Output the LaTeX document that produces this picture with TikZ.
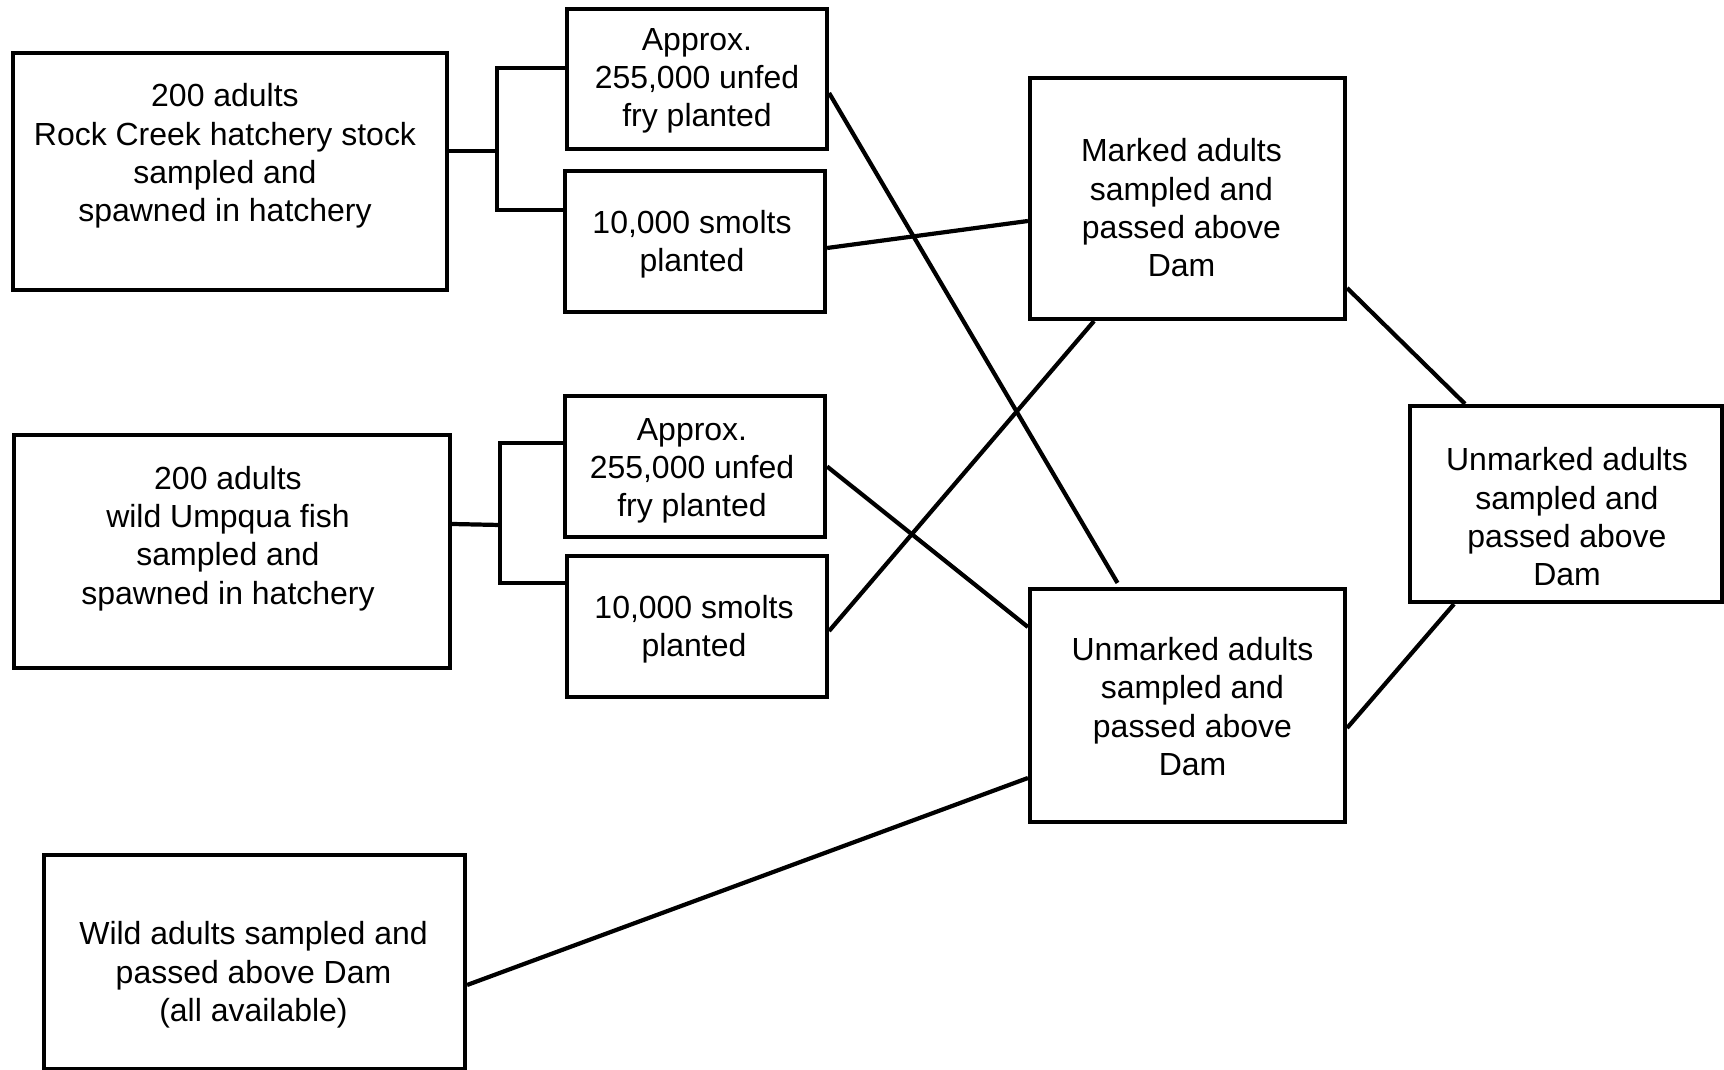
\documentclass[tikz,border=0pt]{standalone}
\usepackage{fontspec}
\setmainfont{Liberation Sans}
\usepackage{tikz}
\usetikzlibrary{calc}

\begin{document}
\begin{tikzpicture}[x=0.02cm,y=-0.02cm,line width=2.4pt]
\tikzstyle{every node}=[font=\fontsize{18.2}{21.8}\selectfont]
\tikzstyle{box}=[draw,rectangle,inner sep=0pt]
\tikzstyle{txt}=[align=center,inner sep=0pt]
\useasboundingbox (0,0) rectangle (1724,1070);
\node [box,minimum width=8.68cm,minimum height=4.74cm] (rock) at (230,171.5) {};
\node [box,minimum width=5.2cm,minimum height=2.8cm] (fry1) at (697,79) {};
\node [box,minimum width=5.2cm,minimum height=2.82cm] (smolt1) at (695,241.5) {};
\node [box,minimum width=6.3cm,minimum height=4.82cm] (marked) at (1187.5,198.5) {};
\node [box,minimum width=8.72cm,minimum height=4.66cm] (umpqua) at (232,551.5) {};
\node [box,minimum width=5.2cm,minimum height=2.82cm] (fry2) at (695,466.5) {};
\node [box,minimum width=5.2cm,minimum height=2.82cm] (smolt2) at (697,626.5) {};
\node [box,minimum width=6.3cm,minimum height=4.66cm] (unmid) at (1187.5,705.5) {};
\node [box,minimum width=6.24cm,minimum height=3.92cm] (unright) at (1566,504) {};
\node [box,minimum width=8.42cm,minimum height=4.28cm] (wild) at (254.5,962) {};
\node [txt] (rocktxt) at ($(rock)+(-5,-15.5)$) {200 adults\\Rock Creek hatchery stock\\sampled and\\spawned in hatchery};
\node [txt] (fry1txt) at ($(fry1)+(0,2)$) {Approx.\\255,000 unfed\\fry planted};
\node [txt] (smolt1txt) at ($(smolt1)+(-3,2.5)$) {10,000 smolts\\planted};
\node [txt] (markedtxt) at ($(marked)+(-6,9.5)$) {Marked adults\\sampled and\\passed above\\Dam};
\node [txt] (umpquatxt) at ($(umpqua)+(-4,-13)$) {200 adults\\wild Umpqua fish\\sampled and\\spawned in hatchery};
\node [txt] (fry2txt) at ($(fry2)+(-3,4.5)$) {Approx.\\255,000 unfed\\fry planted};
\node [txt] (smolt2txt) at ($(smolt2)+(-3,2.5)$) {10,000 smolts\\planted};
\node [txt] (unmidtxt) at ($(unmid)+(5,1)$) {Unmarked adults\\sampled and\\passed above\\Dam};
\node [txt] (unrighttxt) at ($(unright)+(1,13)$) {Unmarked adults\\sampled and\\passed above\\Dam};
\node [txt] (wildtxt) at ($(wild)+(-1,13)$) {Wild adults sampled and\\passed above Dam\\(all available)};
\coordinate (b1) at (497,151);
\coordinate (b2) at (500,525);
\draw ($(rock.east)+(0,-20.5)$) -- (b1);
\draw ($(fry1.west)+(0,-11)$) -| (b1) |- ($(smolt1.west)+(0,-31.5)$);
\draw ($(umpqua.east)+(0,-27.5)$) -- (b2);
\draw ($(fry2.west)+(0,-23.5)$) -| (b2) |- ($(smolt2.west)+(0,-43.5)$);
\draw ($(fry1.east)+(0,14)$) -- ($(unmid.north)+(-70,-4)$);
\draw ($(smolt1.east)+(0,6.5)$) -- ($(marked.west)+(0,22.5)$);
\draw (fry2.east) -- ($(unmid.west)+(0,-78.5)$);
\draw ($(smolt2.east)+(0,4.5)$) -- ($(marked.south)+(-93.5,0)$);
\draw ($(marked.east)+(0,89.5)$) -- ($(unright.north)+(-101,0)$);
\draw ($(unmid.east)+(0,22.5)$) -- ($(unright.south)+(-112,0)$);
\draw ($(wild.east)+(0,23)$) -- ($(unmid.west)+(0,72.5)$);
\end{tikzpicture}
\end{document}
